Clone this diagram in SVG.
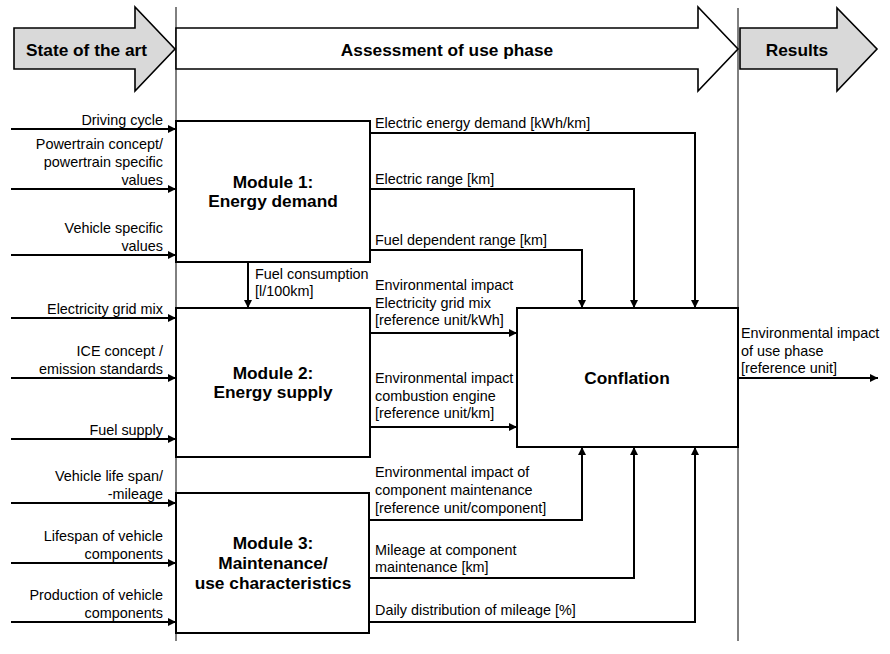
<svg xmlns="http://www.w3.org/2000/svg" width="890" height="654" viewBox="0 0 890 654">
<defs>
<marker id="ah" viewBox="0 0 10 10" refX="10" refY="5" markerWidth="9" markerHeight="8" markerUnits="userSpaceOnUse" orient="auto">
<path d="M0,0 L10,5 L0,10 z" fill="#000"/>
</marker>
<style>
.bg{fill:#fff}
.phase{stroke:#000;stroke-width:1.6;stroke-linejoin:miter}
.grey{fill:#d9d9d9}
.white{fill:#fff}
.div{stroke:#000;stroke-width:1;fill:none}
.box{fill:#fff;stroke:#000;stroke-width:2}
.con{fill:none;stroke:#000;stroke-width:2}
.arr{marker-end:url(#ah)}
text{font-family:"Liberation Sans",Arial,sans-serif;fill:#000}
.lbl{font-size:14.4px}
.r{text-anchor:end}
.b{font-size:17.3px;font-weight:bold;text-anchor:middle}
.h{font-size:17.3px;font-weight:bold}
</style>
</defs>
<rect class="bg" x="0" y="0" width="890" height="654"/>

<g id="dividers">
<line class="div" x1="176" y1="7" x2="176" y2="641"/>
<line class="div" x1="738" y1="8" x2="738" y2="641"/>
</g>

<g id="phase-state">
<polygon class="phase grey" points="14,28 135,28 135,7 175,49 135,91 135,69 14,69"/>
<text class="h" x="26" y="56">State of the art</text>
</g>
<g id="phase-assessment">
<polygon class="phase white" points="176,28 698,28 698,7 738,49 698,91 698,69 176,69"/>
<text class="h" x="447" y="56" text-anchor="middle">Assessment of use phase</text>
</g>
<g id="phase-results">
<polygon class="phase grey" points="740,28 837,28 837,8 877,49 837,91 837,69 740,69"/>
<text class="h" x="797" y="56" text-anchor="middle">Results</text>
</g>

<g id="connectors">
<!-- inputs module 1 -->
<line class="con arr" x1="11" y1="129" x2="176" y2="129"/>
<line class="con arr" x1="11" y1="189" x2="176" y2="189"/>
<line class="con arr" x1="11" y1="255" x2="176" y2="255"/>
<!-- inputs module 2 -->
<line class="con arr" x1="11" y1="318" x2="176" y2="318"/>
<line class="con arr" x1="11" y1="378" x2="176" y2="378"/>
<line class="con arr" x1="11" y1="439" x2="176" y2="439"/>
<!-- inputs module 3 -->
<line class="con arr" x1="11" y1="503" x2="176" y2="503"/>
<line class="con arr" x1="11" y1="563" x2="176" y2="563"/>
<line class="con arr" x1="11" y1="622" x2="176" y2="622"/>
<!-- fuel consumption -->
<line class="con arr" x1="248" y1="262" x2="248" y2="308"/>
<!-- module 1 outputs -->
<polyline class="con arr" points="370,133 695,133 695,308"/>
<polyline class="con arr" points="370,189 634,189 634,308"/>
<polyline class="con arr" points="370,250 582,250 582,308"/>
<!-- module 2 outputs -->
<line class="con arr" x1="370" y1="333" x2="517" y2="333"/>
<line class="con arr" x1="370" y1="427" x2="517" y2="427"/>
<!-- module 3 outputs -->
<polyline class="con arr" points="370,520 582,520 582,447"/>
<polyline class="con arr" points="370,578 634,578 634,447"/>
<polyline class="con arr" points="370,622 695,622 695,447"/>
<!-- result -->
<line class="con arr" x1="738" y1="378" x2="878" y2="378"/>
</g>

<g id="module1">
<rect class="box" x="176" y="121" width="194" height="141"/>
<text class="b" x="273" y="188">Module 1:</text>
<text class="b" x="273" y="207">Energy demand</text>
</g>
<g id="module2">
<rect class="box" x="176" y="308" width="194" height="149"/>
<text class="b" x="273" y="379">Module 2:</text>
<text class="b" x="273" y="398">Energy supply</text>
</g>
<g id="module3">
<rect class="box" x="176" y="493" width="193" height="140"/>
<text class="b" x="273" y="549">Module 3:</text>
<text class="b" x="273" y="569">Maintenance/</text>
<text class="b" x="273" y="589">use characteristics</text>
</g>
<g id="conflation">
<rect class="box" x="517" y="308" width="221" height="139"/>
<text class="b" x="627" y="384">Conflation</text>
</g>

<g id="input-labels">
<text class="lbl r" x="163" y="125">Driving cycle</text>
<text class="lbl r" x="163" y="149">Powertrain concept/</text>
<text class="lbl r" x="163" y="167">powertrain specific</text>
<text class="lbl r" x="163" y="185">values</text>
<text class="lbl r" x="163" y="233">Vehicle specific</text>
<text class="lbl r" x="163" y="251">values</text>
<text class="lbl r" x="163" y="314">Electricity grid mix</text>
<text class="lbl r" x="163" y="356">ICE concept /</text>
<text class="lbl r" x="163" y="374">emission standards</text>
<text class="lbl r" x="163" y="435">Fuel supply</text>
<text class="lbl r" x="163" y="481">Vehicle life span/</text>
<text class="lbl r" x="163" y="499">-mileage</text>
<text class="lbl r" x="163" y="541">Lifespan of vehicle</text>
<text class="lbl r" x="163" y="559">components</text>
<text class="lbl r" x="163" y="600">Production of vehicle</text>
<text class="lbl r" x="163" y="618">components</text>
</g>

<g id="flow-labels">
<text class="lbl" x="255" y="279">Fuel consumption</text>
<text class="lbl" x="255" y="296">[l/100km]</text>
<text class="lbl" x="375" y="128">Electric energy demand [kWh/km]</text>
<text class="lbl" x="375" y="184">Electric range [km]</text>
<text class="lbl" x="375" y="245">Fuel dependent range [km]</text>
<text class="lbl" x="375" y="290">Environmental impact</text>
<text class="lbl" x="375" y="307.5">Electricity grid mix</text>
<text class="lbl" x="375" y="325">[reference unit/kWh]</text>
<text class="lbl" x="375" y="383">Environmental impact</text>
<text class="lbl" x="375" y="400.5">combustion engine</text>
<text class="lbl" x="375" y="418">[reference unit/km]</text>
<text class="lbl" x="375" y="477">Environmental impact of</text>
<text class="lbl" x="375" y="495">component maintenance</text>
<text class="lbl" x="375" y="513">[reference unit/component]</text>
<text class="lbl" x="375" y="554.5">Mileage at component</text>
<text class="lbl" x="375" y="572">maintenance [km]</text>
<text class="lbl" x="375" y="615">Daily distribution of mileage [%]</text>
<text class="lbl" x="741" y="338">Environmental impact</text>
<text class="lbl" x="741" y="355.5">of use phase</text>
<text class="lbl" x="741" y="373">[reference unit]</text>
</g>
</svg>
